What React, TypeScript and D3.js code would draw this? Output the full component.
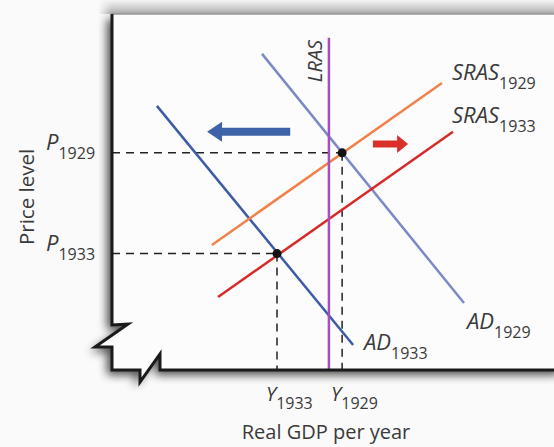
import React from "react";
import * as d3 from "d3";

// curve end points in model units (x: real GDP, y: price level)
const lras = [
  { x: 4.93, y: 0 },
  { x: 4.93, y: 9.33 },
];
const ad1929 = [
  { x: 3.41, y: 8.88 },
  { x: 8.0, y: 1.88 },
];
const ad1933 = [
  { x: 1.02, y: 7.42 },
  { x: 5.48, y: 0.7 },
];
const sras1929 = [
  { x: 2.27, y: 3.51 },
  { x: 7.5, y: 8.06 },
];
const sras1933 = [
  { x: 2.41, y: 2.05 },
  { x: 7.75, y: 6.69 },
];
const equilibria = [
  { x: 5.23, y: 6.1 },
  { x: 3.75, y: 3.27 },
];
const arrowBlue = { from: 4.05, to: 2.16, y: 6.69 };
const arrowRed = { from: 5.93, to: 6.73, y: 6.35 };
const pLabels = ["1929", "1933"];
const yLabels = ["1929", "1933"];

const W = 554;
const H = 447;
const font = "'Open Sans', 'Noto Sans', sans-serif";

const x = d3.scaleLinear().domain([0, 10]).range([112, 552]);
const y = d3.scaleLinear().domain([0, 10]).range([370, 14]);

const line = d3
  .line<{ x: number; y: number }>()
  .x((d) => x(d.x))
  .y((d) => y(d.y));

function arrowPath(a: { from: number; to: number; y: number }, shaft: number, head: number, len: number) {
  const x0 = x(a.from);
  const x1 = x(a.to);
  const dir = Math.sign(x1 - x0);
  const xb = x1 - dir * len;
  const cy = y(a.y);
  return `M${x0},${cy - shaft / 2}L${xb},${cy - shaft / 2}L${xb},${cy - head}L${x1},${cy}L${xb},${cy + head}L${xb},${cy + shaft / 2}L${x0},${cy + shaft / 2}Z`;
}

const Label = ({ px, py, main, sub, size = 22, subSize = 16, dy = 9 }: any) => (
  <text x={px} y={py} fontFamily={font} fontSize={size} fill="#3a3a3a">
    <tspan fontStyle="italic">{main}</tspan>
    <tspan fontSize={subSize} dy={dy}>{sub}</tspan>
  </text>
);

export default function App() {
  const x0 = x(0);
  const y0 = y(0);
  const top = y(10);
  // axis outline with the break marks
  const axis = `M${x0},${top}L${x0},${y0 - 45}L${x0 + 16},${y0 - 46}L${x0 - 17},${y0 - 23}L${x0},${y0 - 23}L${x0},${y0}L${x0 + 28},${y0}L${x0 + 28},${y0 + 12}L${x0 + 48},${y0 - 16}L${x0 + 48},${y0}L${W + 10},${y0}`;
  const frame = `${axis}L${W + 10},${top}Z`;
  const dash = "8,6";
  return (
    <div style={{ position: "fixed", left: 0, top: 0 }}>
      <svg width={W} height={H} style={{ display: "block" }}>
        <defs>
          <filter id="sh" x="-20%" y="-20%" width="140%" height="140%">
            <feGaussianBlur in="SourceAlpha" stdDeviation="5" />
            <feOffset dx="-5" dy="5" result="b" />
            <feComponentTransfer>
              <feFuncA type="linear" slope="0.7" />
            </feComponentTransfer>
            <feMerge>
              <feMergeNode />
              <feMergeNode in="SourceGraphic" />
            </feMerge>
          </filter>
          <linearGradient id="topg" x1="0" y1="0" x2="0" y2="1">
            <stop offset="0" stopColor="#f4f4f4" />
            <stop offset="1" stopColor="#b0b0b0" />
          </linearGradient>
          <linearGradient id="topl" x1="0" y1="0" x2="1" y2="0">
            <stop offset="0" stopColor="#fafafa" stopOpacity="1" />
            <stop offset="1" stopColor="#fafafa" stopOpacity="0" />
          </linearGradient>
        </defs>
        <rect width={W} height={H} fill="#fafafa" />
        <rect x={x0 - 14} y={0} width={W} height={top} fill="url(#topg)" />
        <rect x={x0 - 14} y={0} width={14} height={top} fill="url(#topl)" />
        <path d={frame} fill="#fcfcfc" filter="url(#sh)" />
        <line x1={x0} x2={W} y1={top} y2={top} stroke="#9a9a9a" strokeWidth={1.5} />

        {/* guide lines */}
        {equilibria.map((e, i) => (
          <g key={i} stroke="#222" strokeWidth={1.5} strokeDasharray={dash}>
            <line x1={x0} x2={x(e.x)} y1={y(e.y)} y2={y(e.y)} />
            <line x1={x(e.x)} x2={x(e.x)} y1={y(e.y)} y2={y0} />
          </g>
        ))}

        <path d={line(ad1929) || ""} stroke="#7d89c6" strokeWidth={2.5} fill="none" />
        <path d={line(ad1933) || ""} stroke="#3e5ba6" strokeWidth={2.5} fill="none" />
        <path d={line(sras1929) || ""} stroke="#f0824a" strokeWidth={2.5} fill="none" />
        <path d={line(sras1933) || ""} stroke="#d62a28" strokeWidth={2.5} fill="none" />
        <path d={line(lras) || ""} stroke="#a44fc0" strokeWidth={2.5} fill="none" />

        {equilibria.map((e, i) => (
          <circle key={i} cx={x(e.x)} cy={y(e.y)} r={4.5} fill="#111" />
        ))}

        <path d={arrowPath(arrowBlue, 8, 10, 15)} fill="#3f63a8" />
        <path d={arrowPath(arrowRed, 7, 9, 11)} fill="#d9302a" />

        <path d={axis} fill="none" stroke="#1a1a1a" strokeWidth={3} strokeLinejoin="miter" />

        {/* curve labels */}
        <text
          transform={`translate(${x(4.93) - 7},${y(8.68)}) rotate(-90)`}
          textAnchor="middle"
          fontFamily={font}
          fontStyle="italic"
          fontSize={20}
          fill="#3a3a3a"
        >
          LRAS
        </text>
        <Label px={452} py={80} main="SRAS" sub="1929" />
        <Label px={452} py={123} main="SRAS" sub="1933" />
        <Label px={467} py={329} main="AD" sub="1929" />
        <Label px={364} py={350} main="AD" sub="1933" />

        {/* axis value labels */}
        {equilibria.map((e, i) => (
          <Label key={"p" + i} px={46} py={y(e.y) - 3} main="P" sub={pLabels[i]} size={22} subSize={16} />
        ))}
        {equilibria.map((e, i) => (
          <Label key={"y" + i} px={x(e.x) - 11} py={401} main="Y" sub={yLabels[i]} size={20} subSize={16} dy={8} />
        ))}

        <text x={326} y={439} textAnchor="middle" fontFamily={font} fontSize={20} fill="#3a3a3a">
          Real GDP per year
        </text>
        <text
          transform="translate(34,197) rotate(-90)"
          textAnchor="middle"
          fontFamily={font}
          fontSize={20.5}
          fill="#3a3a3a"
        >
          Price level
        </text>
      </svg>
    </div>
  );
}
